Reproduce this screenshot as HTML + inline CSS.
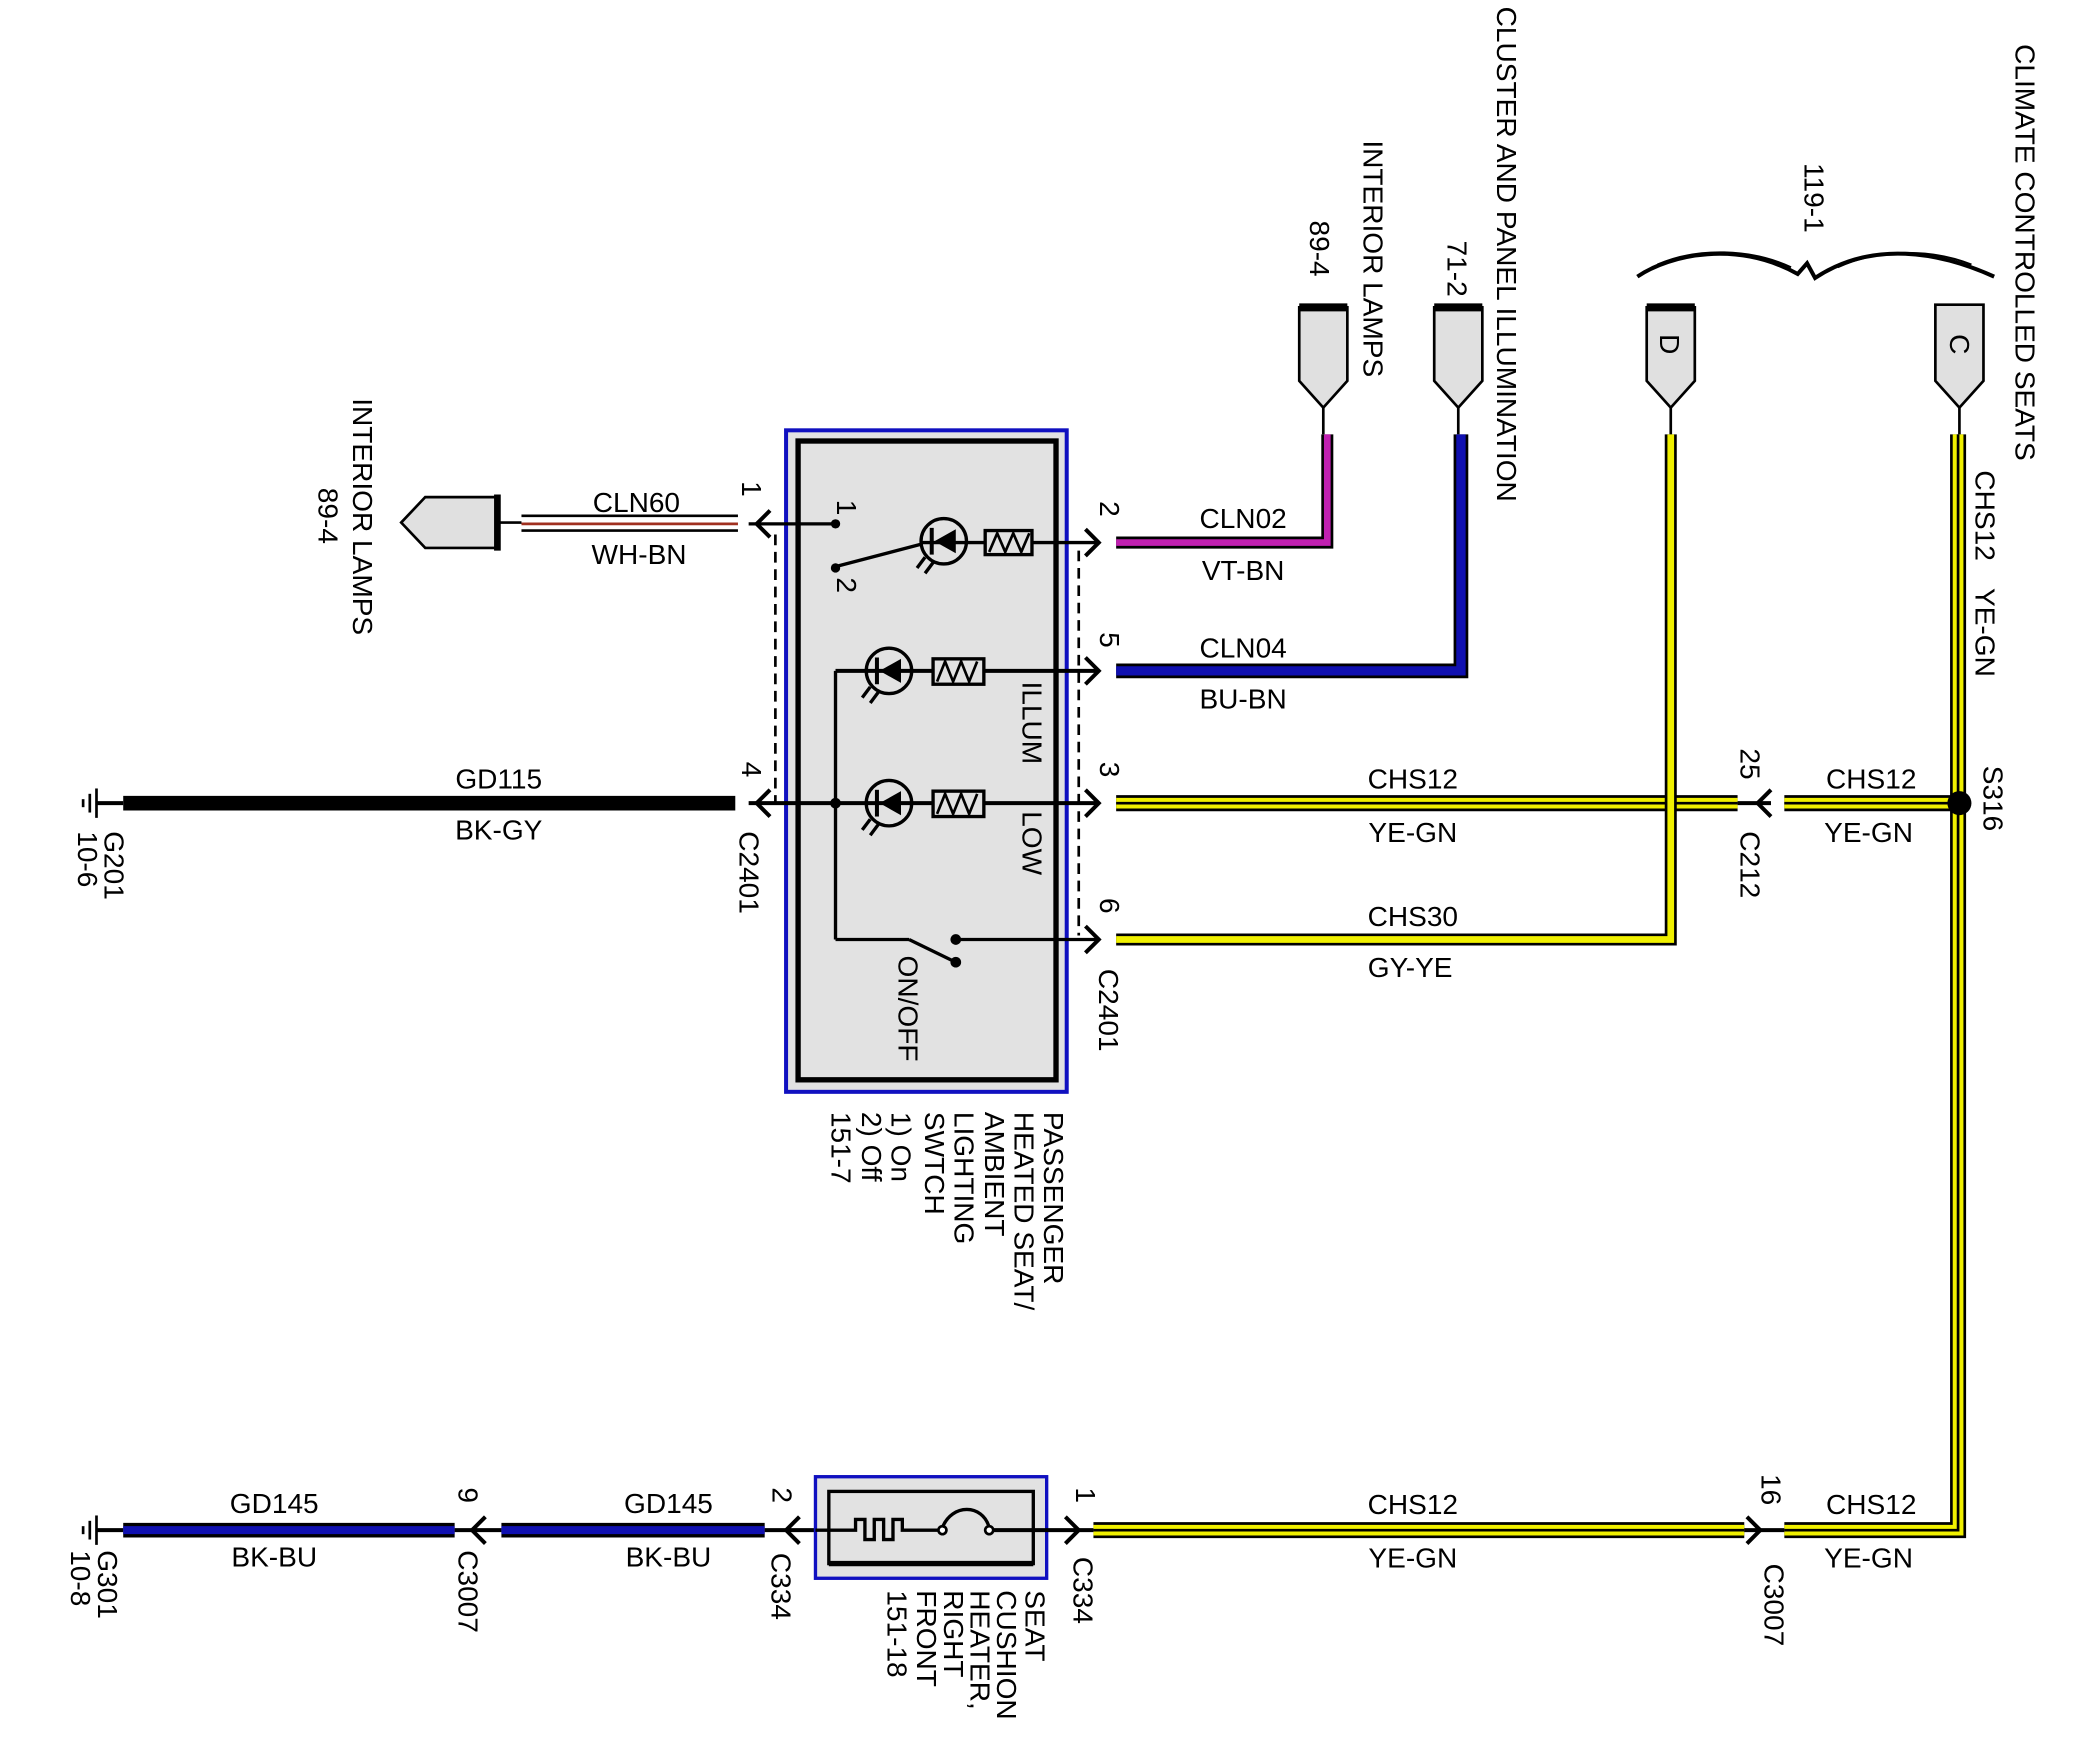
<!DOCTYPE html>
<html><head><meta charset="utf-8"><style>
html,body{margin:0;padding:0;background:#fff;}
svg{display:block;}
text{font-family:"Liberation Sans Narrow","Liberation Sans",sans-serif;font-size:21px;fill:#000;}
.c{text-anchor:middle;}
</style></head><body>
<svg width="2096" height="1748" viewBox="0 0 1568 1308" xmlns="http://www.w3.org/2000/svg">
<defs>
<g id="ydh"><!-- placeholder --></g>
</defs>

<!-- ===== Switch box ===== -->
<rect x="588" y="322" width="210" height="495" fill="#e2e2e2" stroke="#1010c0" stroke-width="3"/>
<rect x="597" y="330" width="193" height="478" fill="#e2e2e2" stroke="#000" stroke-width="4"/>
<!-- dashed connector lines -->
<line x1="580" y1="400" x2="580" y2="600" stroke="#000" stroke-width="2" stroke-dasharray="8,5"/>
<line x1="807" y1="412" x2="807" y2="700" stroke="#000" stroke-width="2" stroke-dasharray="8,5"/>

<!-- Left interior lamps connector -->
<polygon points="372,372 318,372 300,391 318,410 372,410" fill="#e0e0e0" stroke="#000" stroke-width="2"/>
<line x1="372" y1="370" x2="372" y2="412" stroke="#000" stroke-width="5"/>
<line x1="372" y1="391" x2="390" y2="391" stroke="#000" stroke-width="2"/>
<line x1="390" y1="386" x2="552" y2="386" stroke="#000" stroke-width="2"/>
<line x1="390" y1="392" x2="552" y2="392" stroke="#a03020" stroke-width="2"/>
<line x1="390" y1="397" x2="552" y2="397" stroke="#000" stroke-width="2"/>
<text class="c" x="476" y="383">CLN60</text>
<text class="c" x="478" y="422">WH-BN</text>

<!-- row1 inner -->
<line x1="560" y1="392" x2="625" y2="392" stroke="#000" stroke-width="2.5"/>
<polyline points="576,382 566,392 576,402" fill="none" stroke="#000" stroke-width="3"/>
<circle cx="625" cy="392" r="3.5"/>
<circle cx="625" cy="425" r="3.5"/>
<line x1="625" y1="424" x2="690" y2="407" stroke="#000" stroke-width="2.5"/>
<line x1="690" y1="406" x2="820" y2="406" stroke="#000" stroke-width="2.5"/>
<polyline points="812,396 822,406 812,416" fill="none" stroke="#000" stroke-width="3"/>

<!-- LED helper groups -->
<g id="led1" transform="translate(706,405)">
 <circle r="17" fill="none" stroke="#000" stroke-width="2.5"/>
 <polygon points="-9,-9 -9,9 7,0" transform="scale(-1,1)"/>
 <line x1="-9" y1="-10" x2="-9" y2="10" stroke="#000" stroke-width="3"/>
 <line x1="-14" y1="12" x2="-20" y2="20" stroke="#000" stroke-width="2.5"/>
 <line x1="-8" y1="16" x2="-14" y2="24" stroke="#000" stroke-width="2.5"/>
</g>
<rect x="737" y="397" width="35" height="18" fill="#e2e2e2" stroke="#000" stroke-width="2.5"/>
<polyline points="740,413 746,399 752,413 758,399 764,413 770,399" fill="none" stroke="#000" stroke-width="2"/>

<!-- row 5 -->
<line x1="625" y1="502" x2="820" y2="502" stroke="#000" stroke-width="3"/>
<polyline points="812,492 822,502 812,512" fill="none" stroke="#000" stroke-width="3"/>
<use href="#led1" transform="translate(-41,97)"/>
<rect x="698" y="493" width="38" height="19" fill="#e2e2e2" stroke="#000" stroke-width="2.5"/>
<polyline points="701,510 707,495 713,510 719,495 725,510 731,495" fill="none" stroke="#000" stroke-width="2"/>

<!-- row 3/4 -->
<line x1="560" y1="601" x2="820" y2="601" stroke="#000" stroke-width="3"/>
<polyline points="576,591 566,601 576,611" fill="none" stroke="#000" stroke-width="3"/>
<polyline points="812,591 822,601 812,611" fill="none" stroke="#000" stroke-width="3"/>
<circle cx="625" cy="601" r="4"/>
<use href="#led1" transform="translate(-41,196)"/>
<rect x="698" y="592" width="38" height="19" fill="#e2e2e2" stroke="#000" stroke-width="2.5"/>
<polyline points="701,609 707,594 713,609 719,594 725,609 731,594" fill="none" stroke="#000" stroke-width="2"/>

<!-- vertical bus -->
<line x1="625" y1="502" x2="625" y2="703" stroke="#000" stroke-width="2.5"/>
<!-- row 6 -->
<line x1="625" y1="703" x2="680" y2="703" stroke="#000" stroke-width="2.5"/>
<line x1="680" y1="703" x2="715" y2="720" stroke="#000" stroke-width="2.5"/>
<circle cx="715" cy="703" r="4"/>
<circle cx="715" cy="720" r="4"/>
<line x1="715" y1="703" x2="820" y2="703" stroke="#000" stroke-width="2.5"/>
<polyline points="812,693 822,703 812,713" fill="none" stroke="#000" stroke-width="3"/>

<!-- Ground G201 -->
<line x1="72" y1="590" x2="72" y2="612" stroke="#000" stroke-width="2"/>
<line x1="67" y1="594" x2="67" y2="608" stroke="#000" stroke-width="2"/>
<line x1="62" y1="598" x2="62" y2="604" stroke="#000" stroke-width="2"/>
<line x1="72" y1="601" x2="92" y2="601" stroke="#000" stroke-width="3"/>
<line x1="92" y1="601" x2="550" y2="601" stroke="#000" stroke-width="11"/>
<text class="c" x="373" y="590">GD115</text>
<text class="c" x="373" y="628">BK-GY</text>

<!-- CLN02 magenta -->
<path d="M835,406 H993 V325" fill="none" stroke="#000" stroke-width="9"/>
<path d="M835,406 H993 V325" fill="none" stroke="#c020b0" stroke-width="5"/>
<line x1="990" y1="305" x2="990" y2="325" stroke="#000" stroke-width="2"/>
<text class="c" x="930" y="395">CLN02</text>
<text class="c" x="930" y="434">VT-BN</text>

<!-- CLN04 blue -->
<path d="M835,502 H1093 V325" fill="none" stroke="#000" stroke-width="11"/>
<path d="M835,502 H1093 V325" fill="none" stroke="#1010b0" stroke-width="7"/>
<line x1="1091" y1="305" x2="1091" y2="325" stroke="#000" stroke-width="2"/>
<text class="c" x="930" y="492">CLN04</text>
<text class="c" x="930" y="530">BU-BN</text>

<!-- yellow wires -->
<g fill="none" stroke-linejoin="miter">
 <path d="M835,601 H1300" stroke="#000" stroke-width="12"/>
 <path d="M835,601 H1300" stroke="#f0f000" stroke-width="8"/>
 <path d="M835,601 H1300" stroke="#000" stroke-width="2"/>
 <path d="M1335,601 H1465" stroke="#000" stroke-width="12"/>
 <path d="M1335,601 H1465" stroke="#f0f000" stroke-width="8"/>
 <path d="M1335,601 H1465" stroke="#000" stroke-width="2"/>

 <path d="M835,703 H1250 V325" stroke="#000" stroke-width="9"/>
 <path d="M835,703 H1250 V325" stroke="#f0f000" stroke-width="5"/>

 <path d="M1465,325 V1145 H1335" stroke="#000" stroke-width="12"/>
 <path d="M1465,325 V1145 H1335" stroke="#f0f000" stroke-width="8"/>
 <path d="M1465,325 V1145 H1335" stroke="#000" stroke-width="2"/>

 <path d="M818,1145 H1305" stroke="#000" stroke-width="12"/>
 <path d="M818,1145 H1305" stroke="#f0f000" stroke-width="8"/>
 <path d="M818,1145 H1305" stroke="#000" stroke-width="2"/>
</g>
<line x1="1250" y1="305" x2="1250" y2="325" stroke="#000" stroke-width="2"/>
<line x1="1466" y1="305" x2="1466" y2="325" stroke="#000" stroke-width="2"/>
<!-- C212 arrow -->
<line x1="1300" y1="601" x2="1325" y2="601" stroke="#000" stroke-width="3"/>
<polyline points="1325,591 1315,601 1325,611" fill="none" stroke="#000" stroke-width="3"/>
<circle cx="1466" cy="601" r="9"/>
<text class="c" x="1057" y="590">CHS12</text>
<text class="c" x="1057" y="630">YE-GN</text>
<text class="c" x="1400" y="590">CHS12</text>
<text class="c" x="1398" y="630">YE-GN</text>
<text class="c" x="1057" y="693">CHS30</text>
<text class="c" x="1055" y="731">GY-YE</text>

<!-- top connectors -->
<g id="tc" fill="#e0e0e0" stroke="#000" stroke-width="2">
 <polygon points="972,230 1008,230 1008,285 990,305 972,285"/>
</g>
<line x1="972" y1="230" x2="1008" y2="230" stroke="#000" stroke-width="6"/>
<polygon points="1073,230 1109,230 1109,285 1091,305 1073,285" fill="#e0e0e0" stroke="#000" stroke-width="2"/>
<line x1="1073" y1="230" x2="1109" y2="230" stroke="#000" stroke-width="6"/>
<polygon points="1232,230 1268,230 1268,285 1250,305 1232,285" fill="#e0e0e0" stroke="#000" stroke-width="2"/>
<line x1="1232" y1="230" x2="1268" y2="230" stroke="#000" stroke-width="6"/>
<polygon points="1448,228 1484,228 1484,285 1466,305 1448,285" fill="#e0e0e0" stroke="#000" stroke-width="2"/>

<!-- brace 119-1 -->
<path d="M1225,207 C1250,190 1300,180 1345,205 L1352,197 L1358,208 C1400,180 1450,188 1492,207" fill="none" stroke="#000" stroke-width="3"/>
<path d="M1240,198 C1270,185 1310,186 1340,200 M1375,200 C1405,186 1445,186 1475,198" fill="none" stroke="#000" stroke-width="1.5"/>

<!-- ===== Bottom row ===== -->
<line x1="72" y1="1134" x2="72" y2="1156" stroke="#000" stroke-width="2"/>
<line x1="67" y1="1138" x2="67" y2="1152" stroke="#000" stroke-width="2"/>
<line x1="62" y1="1142" x2="62" y2="1148" stroke="#000" stroke-width="2"/>
<line x1="72" y1="1145" x2="92" y2="1145" stroke="#000" stroke-width="3"/>
<line x1="92" y1="1145" x2="340" y2="1145" stroke="#000" stroke-width="11"/>
<line x1="92" y1="1145" x2="340" y2="1145" stroke="#1010b0" stroke-width="6"/>
<line x1="340" y1="1145" x2="375" y2="1145" stroke="#000" stroke-width="3"/>
<polyline points="363,1135 353,1145 363,1155" fill="none" stroke="#000" stroke-width="3"/>
<line x1="375" y1="1145" x2="572" y2="1145" stroke="#000" stroke-width="11"/>
<line x1="375" y1="1145" x2="572" y2="1145" stroke="#1010b0" stroke-width="6"/>
<line x1="572" y1="1145" x2="622" y2="1145" stroke="#000" stroke-width="3"/>
<polyline points="598,1135 588,1145 598,1155" fill="none" stroke="#000" stroke-width="3"/>
<text class="c" x="205" y="1132">GD145</text>
<text class="c" x="205" y="1172">BK-BU</text>
<text class="c" x="500" y="1132">GD145</text>
<text class="c" x="500" y="1172">BK-BU</text>

<rect x="610" y="1105" width="173" height="76" fill="#e2e2e2" stroke="#1010c0" stroke-width="2.5"/>
<rect x="620" y="1116" width="153" height="54" fill="#e2e2e2" stroke="#000" stroke-width="2.5"/>
<line x1="620" y1="1170" x2="773" y2="1170" stroke="#000" stroke-width="4"/>
<polyline points="610,1145 640,1145 640,1137 647,1137 647,1152 654,1152 654,1137 661,1137 661,1152 668,1152 668,1137 675,1137 675,1145 705,1145" fill="none" stroke="#000" stroke-width="2.5"/>
<circle cx="705" cy="1145" r="3" fill="#fff" stroke="#000" stroke-width="2"/>
<path d="M705,1143 C712,1125 735,1125 740,1143" fill="none" stroke="#000" stroke-width="2.5"/>
<circle cx="740" cy="1145" r="3" fill="#fff" stroke="#000" stroke-width="2"/>
<line x1="743" y1="1145" x2="818" y2="1145" stroke="#000" stroke-width="3"/>
<polyline points="797,1135 807,1145 797,1155" fill="none" stroke="#000" stroke-width="3"/>
<line x1="1305" y1="1145" x2="1335" y2="1145" stroke="#000" stroke-width="3"/>
<polyline points="1307,1135 1317,1145 1307,1155" fill="none" stroke="#000" stroke-width="3"/>
<text class="c" x="1057" y="1133">CHS12</text>
<text class="c" x="1057" y="1173">YE-GN</text>
<text class="c" x="1400" y="1133">CHS12</text>
<text class="c" x="1398" y="1173">YE-GN</text>

<!-- ===== Vertical (rotated) text ===== -->
<g>
<text transform="translate(264,298) rotate(90)">INTERIOR LAMPS</text>
<text transform="translate(238,365) rotate(90)">89-4</text>
<text transform="translate(555,360) rotate(90)">1</text>
<text transform="translate(555,570) rotate(90)">4</text>
<text transform="translate(553,622) rotate(90)">C2401</text>
<text transform="translate(78,622) rotate(90)">G201</text>
<text transform="translate(58,622) rotate(90)">10-6</text>
<text transform="translate(626,374) rotate(90)">1</text>
<text transform="translate(626,432) rotate(90)">2</text>
<text transform="translate(823,375) rotate(90)">2</text>
<text transform="translate(823,473) rotate(90)">5</text>
<text transform="translate(823,570) rotate(90)">3</text>
<text transform="translate(823,672) rotate(90)">6</text>
<text transform="translate(822,725) rotate(90)">C2401</text>
<text transform="translate(765,510) rotate(90)">ILLUM</text>
<text transform="translate(765,607) rotate(90)">LOW</text>
<text transform="translate(672,715) rotate(90)">ON/OFF</text>
<text transform="translate(781,832) rotate(90)">PASSENGER</text>
<text transform="translate(759,832) rotate(90)">HEATED SEAT/</text>
<text transform="translate(737,832) rotate(90)">AMBIENT</text>
<text transform="translate(714,832) rotate(90)">LIGHTING</text>
<text transform="translate(692,832) rotate(90)">SWTCH</text>
<text transform="translate(667,832) rotate(90)">1) On</text>
<text transform="translate(645,832) rotate(90)">2) Off</text>
<text transform="translate(622,832) rotate(90)">151-7</text>
<text transform="translate(1020,105) rotate(90)">INTERIOR LAMPS</text>
<text transform="translate(980,165) rotate(90)">89-4</text>
<text transform="translate(1120,5) rotate(90)">CLUSTER AND PANEL ILLUMINATION</text>
<text transform="translate(1083,180) rotate(90)">71-2</text>
<text transform="translate(1350,122) rotate(90)">119-1</text>
<text transform="translate(1508,33) rotate(90)">CLIMATE CONTROLLED SEATS</text>
<text transform="translate(1242,250) rotate(90)">D</text>
<text transform="translate(1459,250) rotate(90)">C</text>
<text transform="translate(1478,352) rotate(90)">CHS12</text>
<text transform="translate(1478,440) rotate(90)">YE-GN</text>
<text transform="translate(1484,573) rotate(90)">S316</text>
<text transform="translate(1302,560) rotate(90)">25</text>
<text transform="translate(1302,622) rotate(90)">C212</text>
<text transform="translate(1318,1103) rotate(90)">16</text>
<text transform="translate(1320,1170) rotate(90)">C3007</text>
<text transform="translate(343,1113) rotate(90)">9</text>
<text transform="translate(343,1160) rotate(90)">C3007</text>
<text transform="translate(578,1113) rotate(90)">2</text>
<text transform="translate(577,1162) rotate(90)">C334</text>
<text transform="translate(805,1113) rotate(90)">1</text>
<text transform="translate(803,1165) rotate(90)">C334</text>
<text transform="translate(73,1160) rotate(90)">G301</text>
<text transform="translate(53,1160) rotate(90)">10-8</text>
<text transform="translate(767,1190) rotate(90)">SEAT</text>
<text transform="translate(746,1190) rotate(90)">CUSHION</text>
<text transform="translate(726,1190) rotate(90)">HEATER,</text>
<text transform="translate(706,1190) rotate(90)">RIGHT</text>
<text transform="translate(686,1190) rotate(90)">FRONT</text>
<text transform="translate(664,1190) rotate(90)">151-18</text>
</g>
</svg>
</body></html>
